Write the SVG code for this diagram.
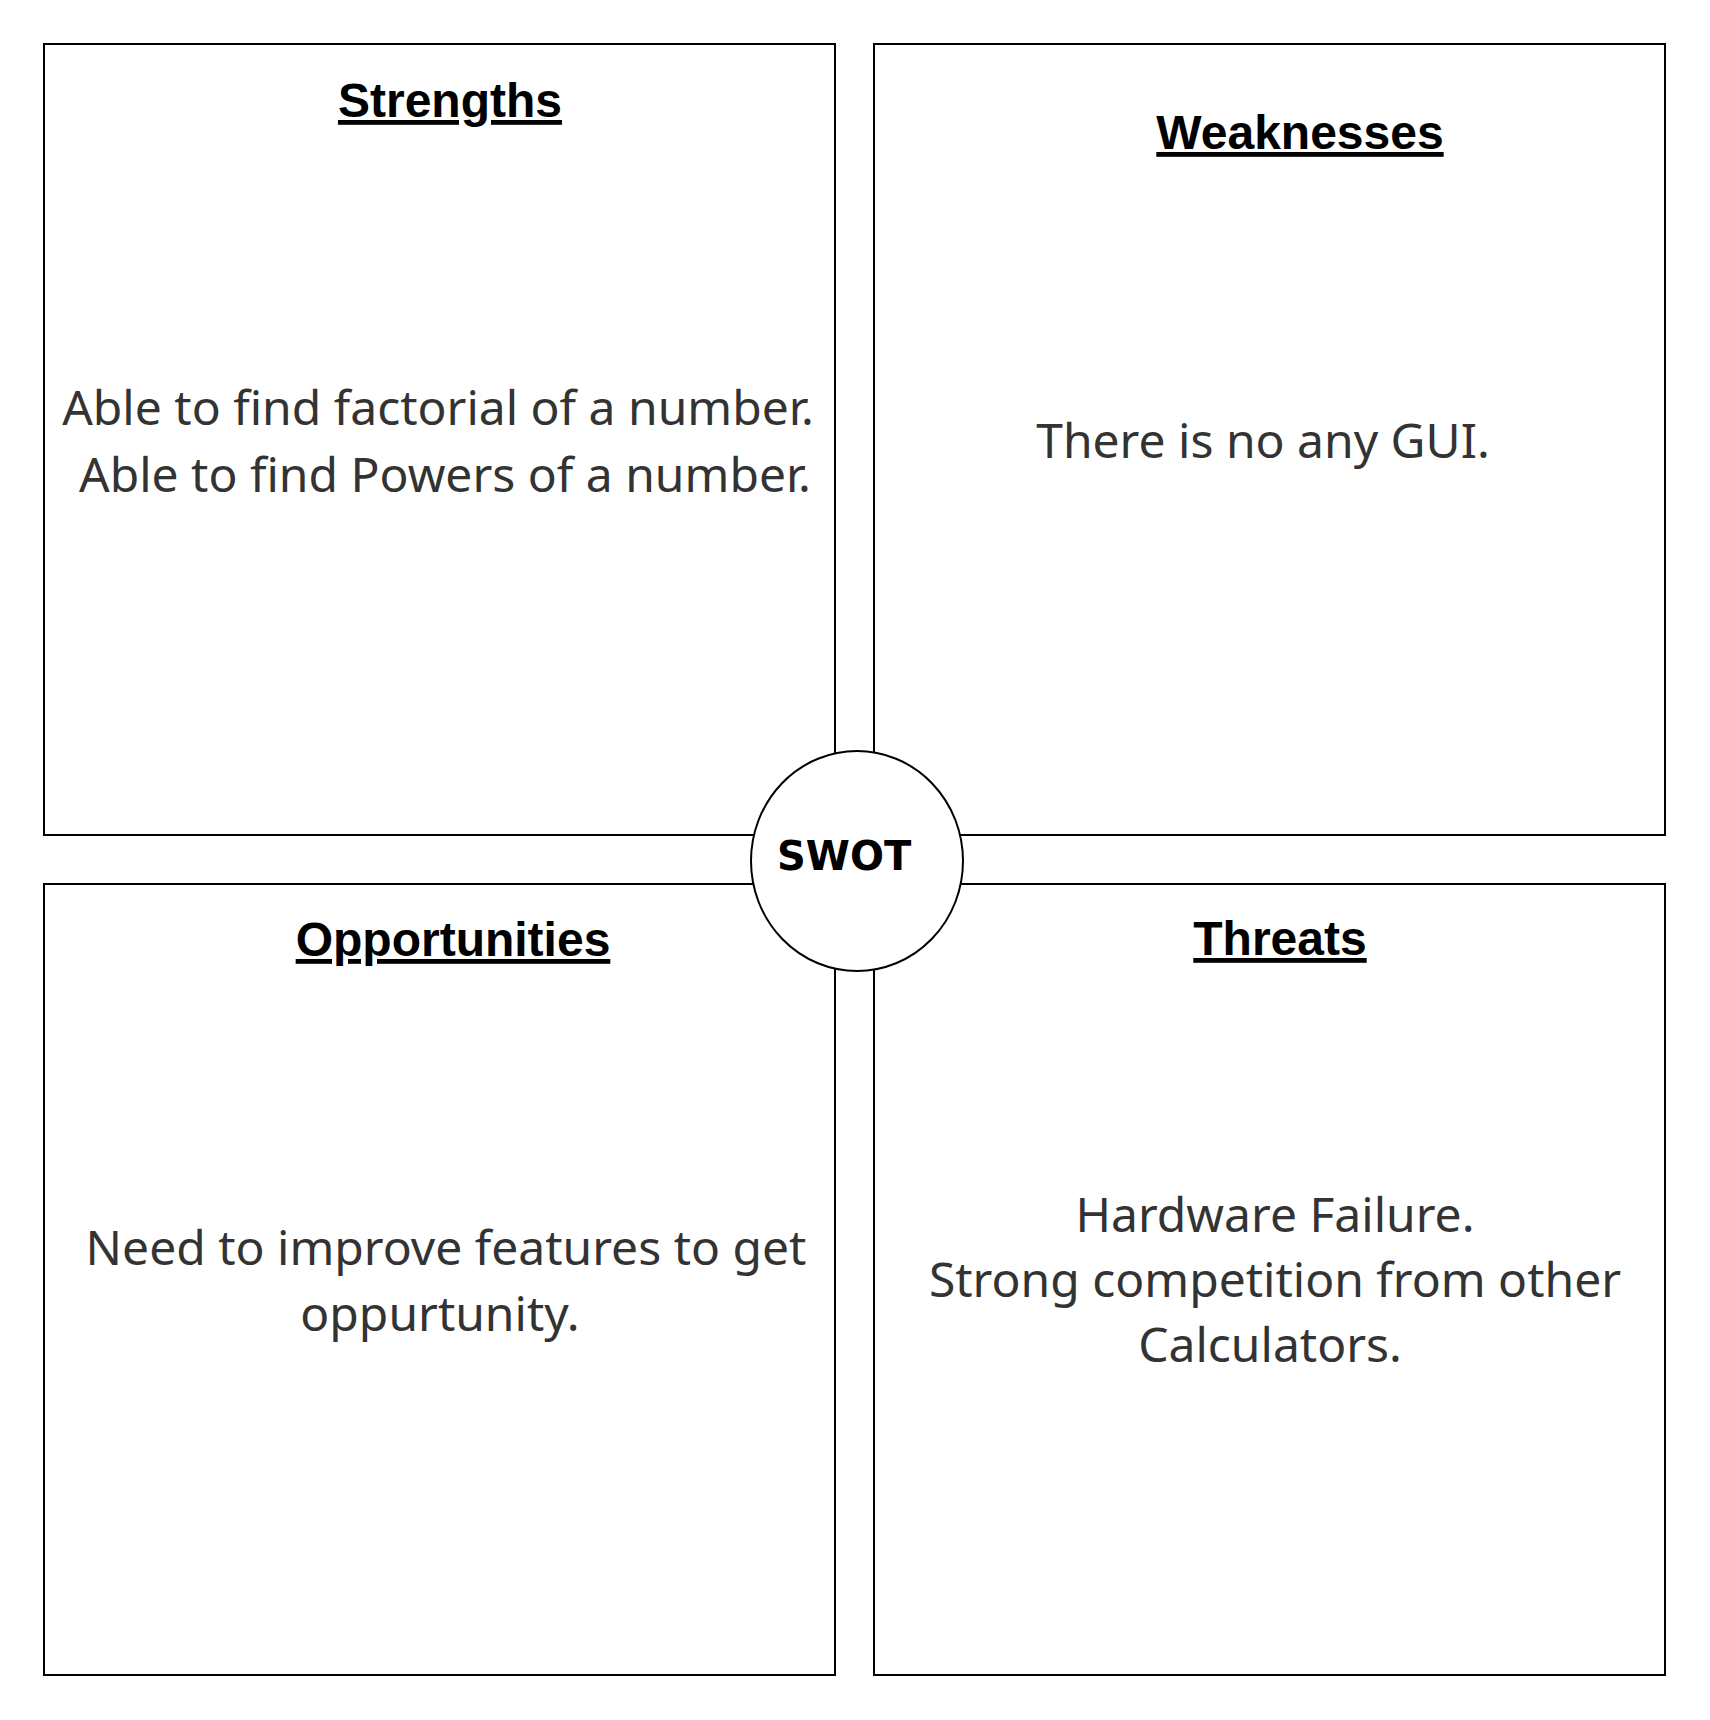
<svg xmlns="http://www.w3.org/2000/svg" width="1710" height="1720" viewBox="0 0 1710 1720">
  <style>
    .quad { fill: #ffffff; stroke: #000000; stroke-width: 2; }
    .hub { fill: #ffffff; stroke: #000000; stroke-width: 2; }
    .title { font-family: "Liberation Sans", Arial, sans-serif; font-weight: bold; font-size: 48px; fill: #000000; text-anchor: middle; text-decoration: underline; }
    .body { font-family: "Noto Sans", "Open Sans", sans-serif; font-size: 48px; fill: #333333; text-anchor: middle; }
    .hub-label { font-family: "DejaVu Sans", Verdana, sans-serif; font-weight: bold; font-size: 40px; fill: #000000; }
  </style>
  <rect width="1710" height="1720" fill="#ffffff"/>

  <g id="strengths">
    <rect class="quad" x="44" y="44" width="791" height="791"/>
    <text class="title" x="450" y="117">Strengths</text>
    <text class="body" x="438" y="425">Able to find factorial of a number.</text>
    <text class="body" x="445" y="492">Able to find Powers of a number.</text>
  </g>

  <g id="weaknesses">
    <rect class="quad" x="874" y="44" width="791" height="791"/>
    <text class="title" x="1300" y="149">Weaknesses</text>
    <text class="body" x="1263" y="458">There is no any GUI.</text>
  </g>

  <g id="opportunities">
    <rect class="quad" x="44" y="884" width="791" height="791"/>
    <text class="title" x="453" y="956">Opportunities</text>
    <text class="body" x="446" y="1265">Need to improve features to get</text>
    <text class="body" x="440" y="1331">oppurtunity.</text>
  </g>

  <g id="threats">
    <rect class="quad" x="874" y="884" width="791" height="791"/>
    <text class="title" x="1280" y="955">Threats</text>
    <text class="body" x="1275" y="1232">Hardware Failure.</text>
    <text class="body" x="1275" y="1297">Strong competition from other</text>
    <text class="body" x="1270" y="1362">Calculators.</text>
  </g>

  <g id="swot">
    <ellipse class="hub" cx="857" cy="861" rx="106" ry="110"/>
    <text class="hub-label" x="777" y="870">SWOT</text>
  </g>

  <g id="connectors"/>
</svg>
